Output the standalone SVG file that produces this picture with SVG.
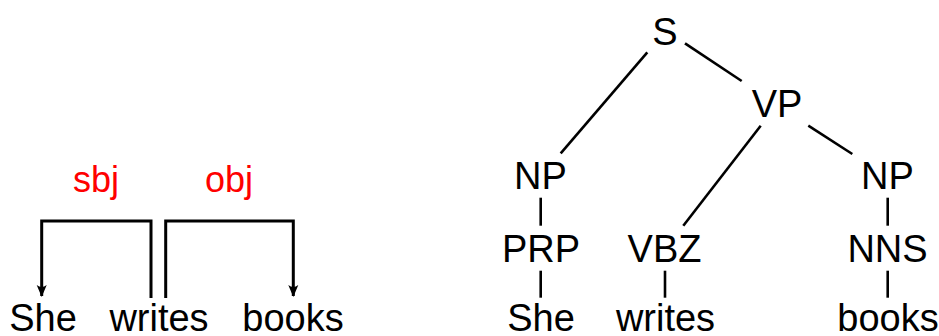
<svg xmlns="http://www.w3.org/2000/svg" width="939" height="336" viewBox="0 0 939 336">
<style>
.t{font-family:"Liberation Sans",Arial,sans-serif;font-size:38px;fill:#000;text-anchor:middle}
.lbl{font-family:"Liberation Sans",Arial,sans-serif;font-size:36px;fill:#ff0000;text-anchor:middle}
.e{stroke:#000;stroke-width:2.6;fill:none}
.d{stroke:#000;stroke-width:3;fill:none}
</style>
<defs>
<marker id="ah" markerUnits="userSpaceOnUse" markerWidth="16" markerHeight="14" viewBox="-13 -7 16 14" refX="0" refY="0" orient="auto">
<path d="M1,0 L-11,-5 Q-7,0 -11,5 Z" fill="#000"/>
</marker>
</defs>
<rect width="939" height="336" fill="#fff"/>
<!-- dependency tree -->
<g id="dep-she"><text class="t" x="43" y="331">She</text></g>
<g id="dep-writes"><text class="t" x="159" y="331">writes</text></g>
<g id="dep-books"><text class="t" x="293" y="331">books</text></g>
<!-- constituency tree -->
<g id="c-S"><text class="t" x="665" y="45">S</text></g>
<g id="c-VP"><text class="t" x="777" y="116.5">VP</text></g>
<g id="c-NP1"><text class="t" x="540.5" y="189">NP</text></g>
<g id="c-NP2"><text class="t" x="887.5" y="189">NP</text></g>
<g id="c-PRP"><text class="t" x="541" y="262">PRP</text></g>
<g id="c-VBZ"><text class="t" x="664.5" y="262">VBZ</text></g>
<g id="c-NNS"><text class="t" x="887.5" y="262">NNS</text></g>
<g id="c-she"><text class="t" x="541" y="331">She</text></g>
<g id="c-writes"><text class="t" x="665.5" y="331">writes</text></g>
<g id="c-books"><text class="t" x="888" y="331">books</text></g>
<g id="connectors">
<path class="d" d="M151,298 V221 H41.7 V296" marker-end="url(#ah)"/>
<path class="d" d="M165.7,298 V221 H293.3 V296" marker-end="url(#ah)"/>
<text class="lbl" x="96" y="192">sbj</text>
<text class="lbl" x="229" y="192">obj</text>
<line class="e" x1="647.3" y1="52.3" x2="560.7" y2="153.3"/>
<line class="e" x1="685" y1="43.3" x2="741.7" y2="81"/>
<line class="e" x1="760.7" y1="125.7" x2="683.3" y2="225.7"/>
<line class="e" x1="808.3" y1="125.7" x2="852.3" y2="154"/>
<line class="e" x1="540.7" y1="197.7" x2="540.7" y2="225.7"/>
<line class="e" x1="540.7" y1="270.7" x2="540.7" y2="297.7"/>
<line class="e" x1="665" y1="270.7" x2="665" y2="297.7"/>
<line class="e" x1="887.7" y1="197.7" x2="887.7" y2="225.7"/>
<line class="e" x1="887.7" y1="270.7" x2="887.7" y2="297.7"/>
</g>
</svg>
